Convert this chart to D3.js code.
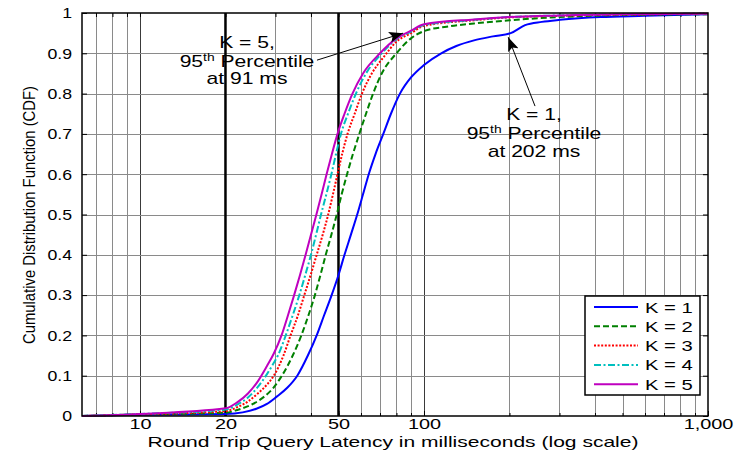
<!DOCTYPE html>
<html>
<head>
<meta charset="utf-8">
<script src="https://cdn.jsdelivr.net/npm/d3@7"></script>
<style>
  body { margin: 0; background: #fff; }
  text { font-family: "Liberation Sans", Arial, sans-serif; fill: #000; }
</style>
</head>
<body>
<svg id="svg" width="746" height="455"></svg>
<script>
  // series names, colors follow the matlab default order
  var seriesNames = ["K = 1", "K = 2", "K = 3", "K = 4", "K = 5"];

  // [latency in ms, cdf]
  var k1 = [[6.25,0],[10,0.003],[20,0.005],[23,0.009],[25.7,0.018],[28,0.03],[30.3,0.048],[33,0.07],[35.8,0.1],[39,0.15],[41.9,0.2],[44.5,0.25],[47.3,0.3],[50,0.35],[52.5,0.4],[55.3,0.45],[58.2,0.5],[61,0.55],[63.9,0.6],[67.5,0.65],[71.9,0.7],[76.5,0.75],[82.3,0.8],[90,0.84],[100,0.871],[115,0.9],[130,0.918],[150,0.932],[175,0.942],[202,0.95],[227,0.97],[260,0.978],[301,0.983],[417,0.99],[600,0.993],[1000,0.997]];
  var k2 = [[6.25,0],[10,0.004],[20,0.008],[22,0.015],[25,0.03],[27.6,0.05],[29.5,0.07],[31.6,0.1],[34.5,0.15],[37,0.2],[39.2,0.25],[41.3,0.3],[43.2,0.35],[45.1,0.4],[47.2,0.45],[49.3,0.5],[51.3,0.55],[53.6,0.6],[56.2,0.65],[59.2,0.7],[62.5,0.75],[66.2,0.8],[71,0.85],[80,0.9],[90,0.937],[100,0.955],[120,0.966],[150,0.974],[200,0.982],[300,0.99],[500,0.995],[1000,0.997]];
  var k3 = [[6.25,0],[10,0.004],[20,0.012],[22,0.022],[24,0.036],[26,0.056],[28,0.078],[29.6,0.1],[32,0.15],[33.9,0.2],[36,0.25],[37.9,0.3],[39.9,0.35],[41.9,0.4],[44,0.45],[46,0.5],[47.8,0.55],[49.6,0.6],[51.5,0.65],[53.8,0.7],[57,0.75],[60.5,0.8],[65.5,0.85],[72,0.89],[80,0.929],[90,0.95],[100,0.968],[150,0.982],[200,0.989],[300,0.993],[500,0.996],[1000,0.998]];
  var k4 = [[6.25,0],[10,0.005],[20,0.016],[22,0.028],[24,0.046],[26,0.072],[28,0.104],[29.5,0.13],[30.6,0.15],[32.6,0.2],[34.5,0.25],[36.4,0.3],[38.2,0.35],[40,0.4],[41.7,0.45],[43.4,0.5],[45.3,0.55],[47.2,0.6],[49,0.65],[51,0.7],[54,0.75],[57.6,0.8],[62.5,0.85],[70,0.895],[80,0.935],[90,0.954],[100,0.97],[150,0.983],[200,0.99],[300,0.994],[500,0.997],[1000,0.998]];
  var k5 = [[6.25,0],[10,0.005],[20,0.019],[22,0.034],[24,0.056],[26,0.086],[28,0.124],[29.6,0.155],[31.5,0.2],[33.2,0.25],[34.9,0.3],[36.6,0.35],[38.3,0.4],[40,0.45],[41.8,0.5],[43.6,0.55],[45.4,0.6],[47.4,0.65],[49.6,0.7],[52.5,0.75],[56,0.8],[61,0.85],[70,0.9],[80,0.937],[90,0.956],[100,0.972],[150,0.984],[200,0.99],[300,0.994],[500,0.997],[1000,0.998]];

  // tick labels
  var xTickValues = [10, 20, 50, 100, 1000];
  var yTickValues = [0, 0.1, 0.2, 0.3, 0.4, 0.5, 0.6, 0.7, 0.8, 0.9, 1];
  var xDomain = [6.25, 1000];

  // the two bold reference lines
  var boldLines = [20, 50];

  // annotation arrows, [tail, tip] in data units
  var arrowK5 = [[42, 0.883], [84.4, 0.95]];
  var arrowK1 = [[246, 0.769], [198, 0.94]];

  var render = function()
  {
    var svg = d3.select("#svg");

    // plot box
    var left = 82, right = 708, top = 13, bottom = 416;

    var x = d3.scaleLog().domain(xDomain).range([left, right]);
    var y = d3.scaleLinear().domain([0, 1]).range([bottom, top]);

    var font = "'Liberation Sans', Arial, sans-serif";

    // line styles in order
    var colors = ["#0000ff", "#008000", "#ff0000", "#00bfbf", "#bf00bf"];
    var dashes = [null, "6,3", "2,1.6", "7,2.5,2,2.5", null];
    var data = [k1, k2, k3, k4, k5];

    ////////////////////////////
    // grid

    var grid = svg.append("g");
    var allTicks = x.ticks().filter(function(d) { return d < xDomain[1]; });

    grid.selectAll("line.v")
      .data(allTicks)
      .enter().append("line")
        .attr("x1", function(d) { return Math.round(x(d)) + 0.5; })
        .attr("x2", function(d) { return Math.round(x(d)) + 0.5; })
        .attr("y1", top)
        .attr("y2", bottom)
        .attr("stroke", function(d) { return xTickValues.indexOf(d) >= 0 && boldLines.indexOf(d) < 0 ? "#3a3a3a" : "#8a8a8a"; })
        .attr("stroke-width", 1);

    grid.selectAll("line.h")
      .data(yTickValues.slice(1, -1))
      .enter().append("line")
        .attr("x1", left)
        .attr("x2", right)
        .attr("y1", function(d) { return Math.round(y(d)) + 0.5; })
        .attr("y2", function(d) { return Math.round(y(d)) + 0.5; })
        .attr("stroke", "#8a8a8a")
        .attr("stroke-width", 1);

    grid.selectAll("line.bold")
      .data(boldLines)
      .enter().append("line")
        .attr("x1", function(d) { return x(d); })
        .attr("x2", function(d) { return x(d); })
        .attr("y1", top)
        .attr("y2", bottom)
        .attr("stroke", "#000")
        .attr("stroke-width", 2.5);

    ////////////////////////////
    // axes, ticks point inward

    var gx = svg.append("g")
      .attr("transform", "translate(0," + bottom + ")")
      .call(d3.axisBottom(x).tickValues(xTickValues).tickFormat(d3.format(","))
        .tickSizeInner(-5).tickSizeOuter(0).tickPadding(3));

    svg.append("g")
      .attr("transform", "translate(0," + bottom + ")")
      .call(d3.axisBottom(x).tickValues(allTicks).tickFormat("").tickSizeInner(-3).tickSizeOuter(0));

    svg.append("g")
      .attr("transform", "translate(0," + top + ")")
      .call(d3.axisTop(x).tickValues(allTicks).tickFormat("").tickSizeInner(-4).tickSizeOuter(0));

    var gy = svg.append("g")
      .attr("transform", "translate(" + left + ",0)")
      .call(d3.axisLeft(y).tickValues(yTickValues).tickFormat(d3.format("~g"))
        .tickSizeInner(-5).tickSizeOuter(0).tickPadding(8.5));

    svg.append("g")
      .attr("transform", "translate(" + right + ",0)")
      .call(d3.axisRight(y).tickValues(yTickValues).tickFormat("").tickSizeInner(-5).tickSizeOuter(0));

    svg.selectAll(".domain").remove();
    svg.selectAll(".tick line").attr("stroke", "#000");

    gx.selectAll(".tick text")
      .attr("font-family", font)
      .attr("font-size", 14.5)
      .attr("transform", "scale(1.37,1)");

    gy.selectAll(".tick text")
      .attr("font-family", font)
      .attr("font-size", 15)
      .attr("transform", "scale(1.18,1)");

    ////////////////////////////
    // curves

    var line = d3.line()
      .x(function(d) { return x(d[0]); })
      .y(function(d) { return y(d[1]); })
      .curve(d3.curveMonotoneX);

    svg.append("g").selectAll("path")
      .data(data)
      .enter().append("path")
        .attr("d", line)
        .attr("fill", "none")
        .attr("stroke", function(d, i) { return colors[i]; })
        .attr("stroke-width", 2)
        .attr("stroke-dasharray", function(d, i) { return dashes[i]; });

    // frame on top
    svg.append("rect")
      .attr("x", left)
      .attr("y", top)
      .attr("width", right - left)
      .attr("height", bottom - top)
      .attr("fill", "none")
      .attr("stroke", "#000")
      .attr("stroke-width", 1.5);

    ////////////////////////////
    // axis titles

    svg.append("text")
      .attr("x", (left + right) / 2 - 2)
      .attr("y", 447)
      .attr("text-anchor", "middle")
      .attr("font-size", 15)
      .attr("textLength", 491)
      .attr("lengthAdjust", "spacingAndGlyphs")
      .text("Round Trip Query Latency in milliseconds (log scale)");

    svg.append("text")
      .attr("transform", "translate(35,215) rotate(-90)")
      .attr("text-anchor", "middle")
      .attr("font-size", 16)
      .attr("textLength", 258)
      .attr("lengthAdjust", "spacingAndGlyphs")
      .text("Cumulative Distribution Function (CDF)");

    ////////////////////////////
    // annotations

    var defs = svg.append("defs");
    defs.append("marker")
      .attr("id", "arrow")
      .attr("markerUnits", "userSpaceOnUse")
      .attr("markerWidth", 15)
      .attr("markerHeight", 11)
      .attr("refX", 14)
      .attr("refY", 5.5)
      .attr("orient", "auto")
      .append("path")
        .attr("d", "M0,0 L14,5.5 L0,11 L3,5.5 Z")
        .attr("fill", "#000");

    [arrowK5, arrowK1].forEach(function(a)
    {
      svg.append("line")
        .attr("x1", x(a[0][0]))
        .attr("y1", y(a[0][1]))
        .attr("x2", x(a[1][0]))
        .attr("y2", y(a[1][1]))
        .attr("stroke", "#000")
        .attr("stroke-width", 1)
        .attr("marker-end", "url(#arrow)");
    });

    var note = function(cx, baselines, k, ms)
    {
      var g1 = svg.append("g").attr("transform", "translate(" + cx + "," + baselines[0] + ") scale(1.32,1)");
      g1.append("text").attr("text-anchor", "middle").attr("font-size", 16).text("K = " + k + ",");

      var g2 = svg.append("g").attr("transform", "translate(" + cx + "," + baselines[1] + ") scale(1.32,1)");
      var t2 = g2.append("text").attr("text-anchor", "middle").attr("font-size", 16);
      t2.append("tspan").text("95");
      t2.append("tspan").attr("font-size", 10.5).attr("dy", -6).text("th");
      t2.append("tspan").attr("dy", 6).text(" Percentile");

      var g3 = svg.append("g").attr("transform", "translate(" + cx + "," + baselines[2] + ") scale(1.32,1)");
      g3.append("text").attr("text-anchor", "middle").attr("font-size", 16).text("at " + ms + " ms");
    };

    note(247, [48, 66.5, 84], 5, 91);
    note(534, [120, 139, 157], 1, 202);

    ////////////////////////////
    // legend

    var legend = svg.append("g").attr("transform", "translate(585,296)");
    legend.append("rect")
      .attr("width", 115)
      .attr("height", 99)
      .attr("fill", "#fff")
      .attr("stroke", "#000")
      .attr("stroke-width", 1.5);

    var rows = legend.selectAll("g.row")
      .data(seriesNames)
      .enter().append("g")
        .attr("transform", function(d, i) { return "translate(0," + (11 + i * 19.3) + ")"; });

    rows.append("line")
      .attr("x1", 9)
      .attr("x2", 53)
      .attr("stroke", function(d, i) { return colors[i]; })
      .attr("stroke-width", 2)
      .attr("stroke-dasharray", function(d, i) { return dashes[i]; });

    rows.append("g")
      .attr("transform", "translate(60,5.5) scale(1.35,1)")
      .append("text")
        .attr("font-size", 15)
        .text(function(d) { return d; });
  };

  render();
</script>
</body>
</html>
